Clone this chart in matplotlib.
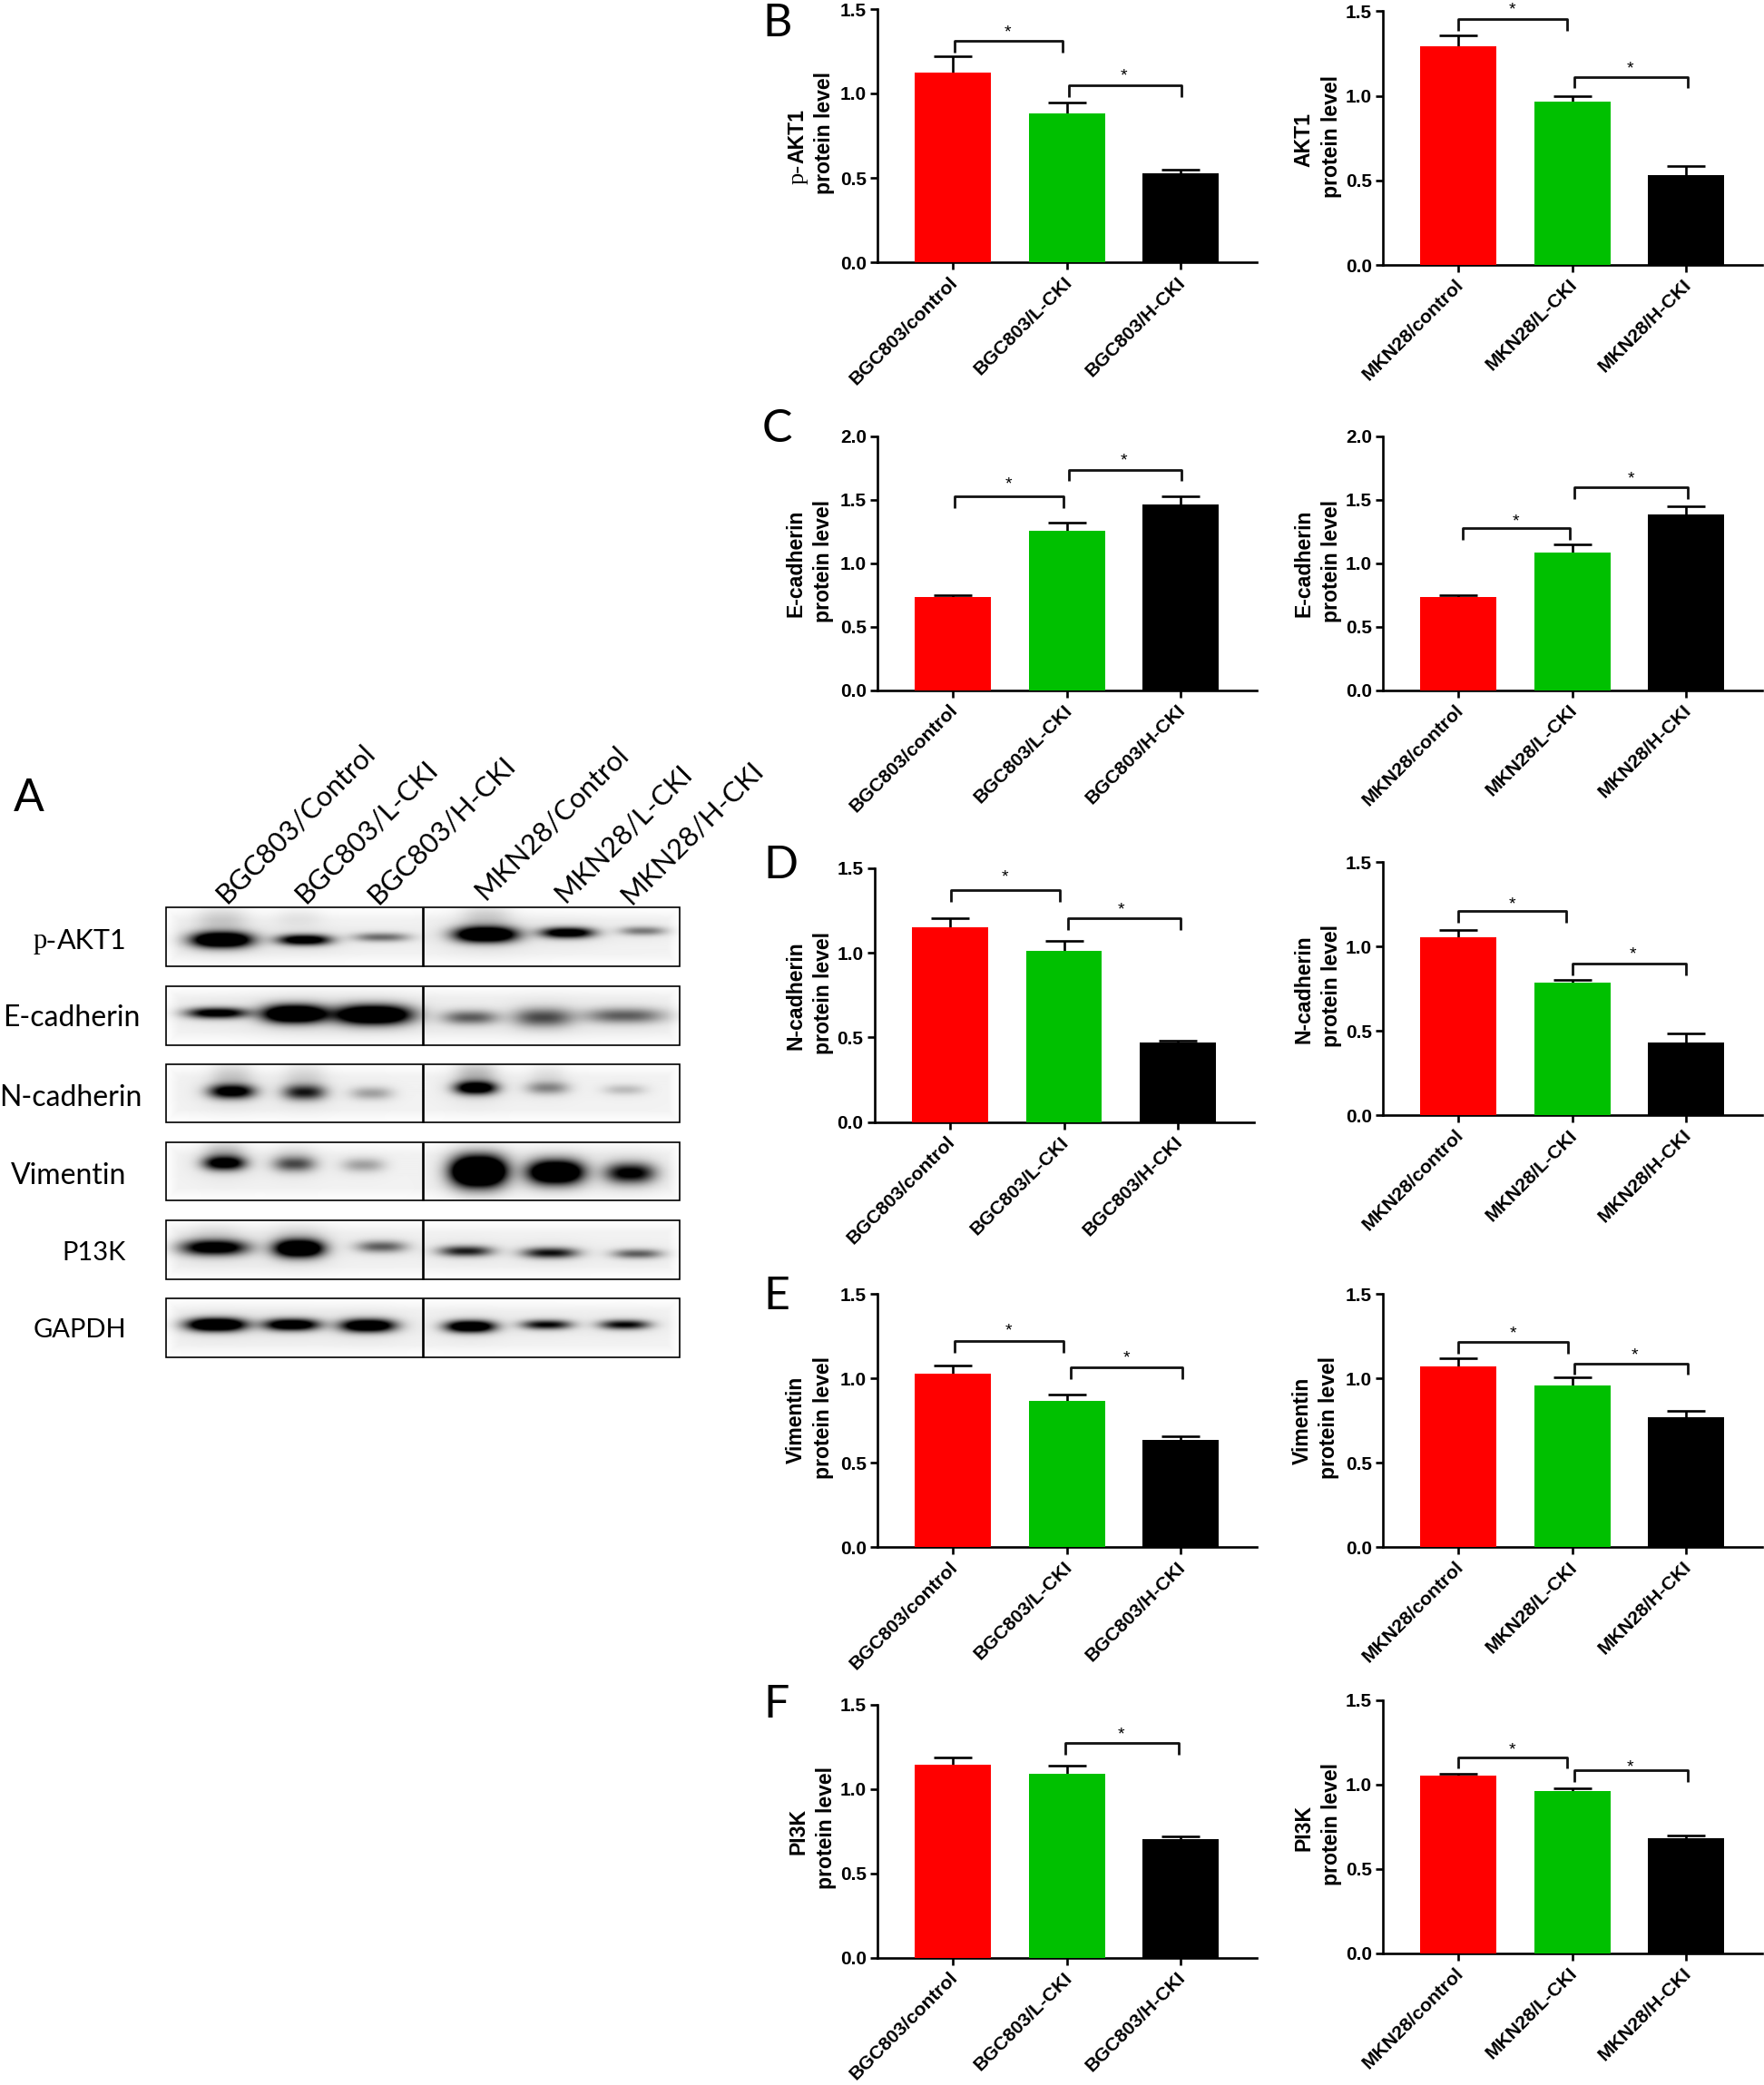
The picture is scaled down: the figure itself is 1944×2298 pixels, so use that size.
import numpy as np
import matplotlib
matplotlib.use("Agg")
import matplotlib.pyplot as plt
from matplotlib.patches import Rectangle
from matplotlib.transforms import ScaledTranslation

W, H = 1944, 2298
BOLD = "Liberation Sans"
SOFT = "Lato"

# ---------- data ----------
groups_bgc = ["BGC803/control", "BGC803/L-CKI", "BGC803/H-CKI"]
groups_mkn = ["MKN28/control", "MKN28/L-CKI", "MKN28/H-CKI"]
bar_colors = ["#FF0000", "#00C000", "#000000"]

pakt_bgc = [1.124, 0.882, 0.529]
pakt_bgc_top = [1.222, 0.948, 0.550]
akt_mkn = [1.293, 0.964, 0.529]
akt_mkn_top = [1.359, 0.998, 0.583]
ecad_bgc = [0.732, 1.254, 1.466]
ecad_bgc_top = [0.749, 1.318, 1.530]
ecad_mkn = [0.734, 1.082, 1.387]
ecad_mkn_top = [0.749, 1.147, 1.447]
ncad_bgc = [1.150, 1.010, 0.468]
ncad_bgc_top = [1.203, 1.071, 0.479]
ncad_mkn = [1.054, 0.788, 0.431]
ncad_mkn_top = [1.099, 0.800, 0.483]
vim_bgc = [1.026, 0.866, 0.634]
vim_bgc_top = [1.076, 0.906, 0.659]
vim_mkn = [1.069, 0.958, 0.771]
vim_mkn_top = [1.119, 1.008, 0.807]
pi3k_bgc = [1.147, 1.093, 0.703]
pi3k_bgc_top = [1.190, 1.139, 0.721]
pi3k_mkn = [1.051, 0.961, 0.684]
pi3k_mkn_top = [1.065, 0.979, 0.696]

ticks_15 = [0.0, 0.5, 1.0, 1.5]
ticks_20 = [0.0, 0.5, 1.0, 1.5, 2.0]

# significance brackets: x1, x2, y, star x, star y
sig_pakt_bgc = [(0.014, 0.964, 1.312, 0.48, 1.396), (1.017, 2.009, 1.048, 1.50, 1.136)]
sig_akt_mkn = [(0.0, 0.95, 1.454, 0.47, 1.545), (1.016, 2.01, 1.112, 1.507, 1.194)]
sig_ecad_bgc = [(0.013, 0.967, 1.526, 0.485, 1.669), (1.016, 2.005, 1.738, 1.502, 1.857)]
sig_ecad_mkn = [(0.034, 0.976, 1.278, 0.50, 1.375), (1.02, 2.01, 1.597, 1.512, 1.712)]
sig_ncad_bgc = [(0.01, 0.968, 1.371, 0.483, 1.484), (1.032, 2.02, 1.203, 1.504, 1.287)]
sig_ncad_mkn = [(0.0, 0.944, 1.21, 0.47, 1.285), (1.005, 1.998, 0.899, 1.533, 0.99)]
sig_vim_bgc = [(0.013, 0.967, 1.219, 0.485, 1.317), (1.03, 2.016, 1.063, 1.52, 1.154)]
sig_vim_mkn = [(0.0, 0.963, 1.214, 0.477, 1.299), (1.019, 2.01, 1.088, 1.55, 1.169)]
sig_pi3k_bgc = [(0.987, 1.98, 1.272, 1.473, 1.36)]
sig_pi3k_mkn = [(-0.005, 0.952, 1.162, 0.47, 1.237), (1.016, 2.01, 1.085, 1.507, 1.138)]

# western blot rows: lane x, half width, band y, darkness, thickness (pixels of the figure)
row_names = ["p-AKT1", "E-cadherin", "N-cadherin", "Vimentin", "P13K", "GAPDH"]
lane_labels = ["BGC803/Control", "BGC803/L-CKI", "BGC803/H-CKI",
               "MKN28/Control", "MKN28/L-CKI", "MKN28/H-CKI"]
bands_pakt = [(244, 33, 1036, 1.6, 6.5), (335, 29, 1036, 1.2, 4.5), (420, 30, 1033, .5, 3.8),
              (535, 34, 1030, 1.6, 6.5), (625, 29, 1028, 1.2, 4.5), (708, 25, 1026, .45, 3.8),
              (244, 27, 1014, .14, 12), (329, 25, 1011, .06, 9), (535, 27, 1011, .14, 12)]
bands_ecad = [(239, 33, 1117, 1.1, 4.5), (324, 34, 1118, 1.7, 7.5), (411, 41, 1119, 1.7, 8),
              (518, 30, 1122, .55, 6), (598, 32, 1122, .62, 8), (688, 43, 1120, .55, 6.5)]
bands_ncad = [(255, 25, 1203, 1.1, 6), (335, 23, 1204, .8, 6.5), (409, 23, 1205, .3, 5.5),
              (524, 23, 1199, 1.2, 5.5), (603, 23, 1199, .4, 5.5), (688, 23, 1201, .2, 4.5),
              (255, 22, 1186, .14, 12), (335, 22, 1186, .1, 12), (524, 22, 1184, .2, 12),
              (603, 19, 1184, .07, 9)]
bands_vim = [(247, 23, 1282, 1.1, 6), (324, 23, 1283, .6, 6.5), (400, 23, 1284, .3, 6),
             (527, 29, 1291, 2.2, 12.5), (612, 30, 1292, 1.7, 10), (694, 27, 1293, 1.0, 8.5),
             (247, 22, 1270, .2, 9), (324, 22, 1272, .07, 9)]
bands_pi3k = [(236, 36, 1375, 1.2, 6.5), (329, 27, 1376, 1.6, 7.5), (420, 27, 1374, .55, 5),
              (513, 29, 1379, .8, 4.5), (606, 30, 1381, .85, 4.5), (702, 27, 1382, .55, 4),
              (329, 27, 1360, .07, 9), (236, 27, 1360, .07, 9)]
bands_gapdh = [(238, 32, 1460, 1.6, 5.5), (321, 30, 1460, 1.3, 5), (405, 30, 1461, 1.4, 5.5),
               (518, 27, 1462, 1.4, 5), (602, 27, 1460, .9, 4), (688, 27, 1460, .9, 4)]

# ---------- layout (figure pixels) ----------
PANEL_W = 418
X_PER_TICK = 125.5
FIRST_TICK = 83.3
panels = [
    # left, top, zero, ymax, ticks, values, caps, groups, sig, line 1, (x, y), line 2, (x, y)
    (967, 10, 289, 1.5, ticks_15, pakt_bgc, pakt_bgc_top, groups_bgc, sig_pakt_bgc, "AKT1", (879, 150), (908, 146)),
    (1524, 12.3, 292, 1.5, ticks_15, akt_mkn, akt_mkn_top, groups_mkn, sig_akt_mkn, "AKT1", (1437, 154), (1467, 150)),
    (967, 481, 760.7, 2.0, ticks_20, ecad_bgc, ecad_bgc_top, groups_bgc, sig_ecad_bgc, "E-cadherin", (877, 621), (907, 618)),
    (1524, 481, 760.7, 2.0, ticks_20, ecad_mkn, ecad_mkn_top, groups_mkn, sig_ecad_mkn, "E-cadherin", (1437, 621), (1467, 618)),
    (963.7, 957, 1236.7, 1.5, ticks_15, ncad_bgc, ncad_bgc_top, groups_bgc, sig_ncad_bgc, "N-cadherin", (877, 1097), (907, 1094)),
    (1524, 950, 1229.3, 1.5, ticks_15, ncad_mkn, ncad_mkn_top, groups_mkn, sig_ncad_mkn, "N-cadherin", (1437, 1090), (1467, 1086)),
    (967, 1426, 1705.3, 1.5, ticks_15, vim_bgc, vim_bgc_top, groups_bgc, sig_vim_bgc, "Vimentin", (877, 1565), (907, 1563)),
    (1524, 1426, 1705.3, 1.5, ticks_15, vim_mkn, vim_mkn_top, groups_mkn, sig_vim_mkn, "Vimentin", (1435, 1566), (1464, 1563)),
    (967, 1879, 2157.7, 1.5, ticks_15, pi3k_bgc, pi3k_bgc_top, groups_bgc, sig_pi3k_bgc, "PI3K", (880, 2018), (910, 2015)),
    (1524, 1873.7, 2153, 1.5, ticks_15, pi3k_mkn, pi3k_mkn_top, groups_mkn, sig_pi3k_mkn, "PI3K", (1437, 2014), (1467, 2011)),
]
LW = 1.9       # points (about 2.6 px at dpi 100)
PX = 0.72      # one pixel, in points

fig = plt.figure(figsize=(W / 100, H / 100), dpi=100, facecolor="white")

for left, top, zero, ymax, yt, vals, caps, grp, sig, l1, p1, p2 in panels:
    ax = fig.add_axes([left / W, 1 - zero / H, PANEL_W / W, (zero - top) / H], facecolor="none")
    x = np.arange(3)
    ax.bar(x, vals, width=0.667, color=bar_colors, linewidth=0, zorder=3)
    ax.vlines(x, vals, caps, color="black", lw=LW, zorder=2)
    ax.plot(x, caps, linestyle="none", marker="_", ms=42 * PX, mew=LW, color="black", zorder=2, clip_on=False)
    drop = ymax * 12.7 / (zero - top)
    for x1, x2, y, sx, sy in sig:
        ax.plot([x1, x1, x2, x2], [y - drop, y, y, y - drop], color="#111111", lw=LW + 0.1, clip_on=False,
                solid_joinstyle="round", solid_capstyle="butt")
        ax.annotate("*", (sx, sy), xytext=(0, -8), textcoords="offset points", ha="center", va="baseline",
                    fontsize=14, family=BOLD, color="black", annotation_clip=False)
    ax.set_xlim(-FIRST_TICK / X_PER_TICK, (PANEL_W - FIRST_TICK) / X_PER_TICK)
    ax.set_ylim(0, ymax)
    ax.set_yticks(yt)
    ax.set_yticklabels([f"{t:.1f}" for t in yt], family=BOLD, fontweight="bold", fontsize=15)
    ax.set_xticks(x)
    ax.set_xticklabels(grp, family=BOLD, fontweight="bold", fontsize=15.2, rotation=45, ha="right",
                       va="center", rotation_mode="anchor")
    ax.tick_params(axis="both", length=8 * PX, width=LW, color="black")
    ax.tick_params(axis="y", pad=3)
    ax.tick_params(axis="x", pad=8)
    shift = ScaledTranslation(2.5 / 100, 0, fig.dpi_scale_trans)
    for lab in ax.get_xticklabels():
        lab.set_transform(lab.get_transform() + shift)
    for s in ("top", "right"):
        ax.spines[s].set_visible(False)
    for s in ("left", "bottom"):
        ax.spines[s].set_linewidth(LW)

# overlay in figure pixels
ov = fig.add_axes([0, 0, 1, 1], facecolor="none", zorder=5)

for left, top, zero, ymax, yt, vals, caps, grp, sig, l1, p1, p2 in panels:
    ov.text(p1[0], p1[1], l1, rotation=90, ha="center", va="center", family=BOLD, fontweight="bold", fontsize=16.6)
    if vals is pakt_bgc:
        ov.text(p1[0] + 1, 192, "p-", rotation=90, ha="center", va="center", family="Liberation Serif", fontsize=19)
    ov.text(p2[0], p2[1], "protein level", rotation=90, ha="center", va="center", family=BOLD, fontweight="bold", fontsize=16.6)

# blots
BLOT_L, BLOT_R, BLOT_DIV = 183, 749, 466
row_boxes = [(1000, 1065), (1086.5, 1152), (1173, 1237), (1259, 1323), (1345, 1410), (1431, 1496)]
row_bands = [bands_pakt, bands_ecad, bands_ncad, bands_vim, bands_pi3k, bands_gapdh]
for (t, b), bands in zip(row_boxes, row_bands):
    xs = np.arange(BLOT_L, BLOT_R + 1)
    ys = np.arange(t, b + 1)
    X, Y = np.meshgrid(xs, ys)
    dark = np.zeros_like(X, dtype=float)
    for cx, hw, cy, amp, th in bands:
        core = np.exp(-np.abs((X - cx) / hw) ** 2.6) * np.exp(-((Y - cy) / (th * 1.3)) ** 2)
        halo = np.exp(-((X - cx) / (hw * 1.5)) ** 2) * np.exp(-((Y - cy) / (th * 3.2)) ** 2)
        dark += amp * core + 0.07 * min(amp, 1) * halo
    # soft membrane tone, fading toward the edges
    edge = np.minimum(np.minimum(X - BLOT_L, BLOT_R - X), np.minimum(Y - t, b - Y))
    dark += 0.05 * np.clip(edge / 14, 0, 1)
    ov.imshow(1 - np.clip(dark, 0, 1), cmap="gray", vmin=0, vmax=1, extent=(BLOT_L, BLOT_R, b, t),
              aspect="auto", interpolation="bilinear", zorder=1)
    ov.add_patch(Rectangle((BLOT_L, t), BLOT_R - BLOT_L, b - t, fill=False, ec="black", lw=1.2, zorder=2))
    ov.plot([BLOT_DIV, BLOT_DIV], [t, b], color="black", lw=1.9, zorder=2, solid_capstyle="butt")

row_label_pos = [(140, 1037), (154, 1122), (156, 1210), (139, 1296), (139, 1381), (139, 1466)]
row_label_size = [22, 23, 23, 23, 21, 21]
for name, (rx, ry), fs in zip(row_names, row_label_pos, row_label_size):
    if name == "p-AKT1":
        ov.text(rx, ry, "AKT1", ha="right", va="center", family=SOFT, fontsize=fs)
        ov.text(62, ry, "p-", ha="right", va="center", family="Liberation Serif", fontsize=fs)
    else:
        ov.text(rx, ry, name, ha="right", va="center", family=SOFT, fontsize=fs)

lane_label_pos = [(325, 908), (404, 917), (486, 915), (608, 907), (687, 919), (762, 918)]
for name, (lx, ly) in zip(lane_labels, lane_label_pos):
    ov.text(lx, ly, name, rotation=45, ha="center", va="center", family=SOFT, fontsize=22.3)

letters = [("A", 15, 894), ("B", 840, 40), ("C", 840, 487), ("D", 841, 968), ("E", 841, 1443), ("F", 841, 1893)]
for s, lx, ly in letters:
    ov.text(lx, ly, s, ha="left", va="baseline", family=SOFT, fontsize=36)

ov.set_xlim(0, W)
ov.set_ylim(H, 0)
ov.axis("off")

fig.savefig("out.png", dpi=100)
